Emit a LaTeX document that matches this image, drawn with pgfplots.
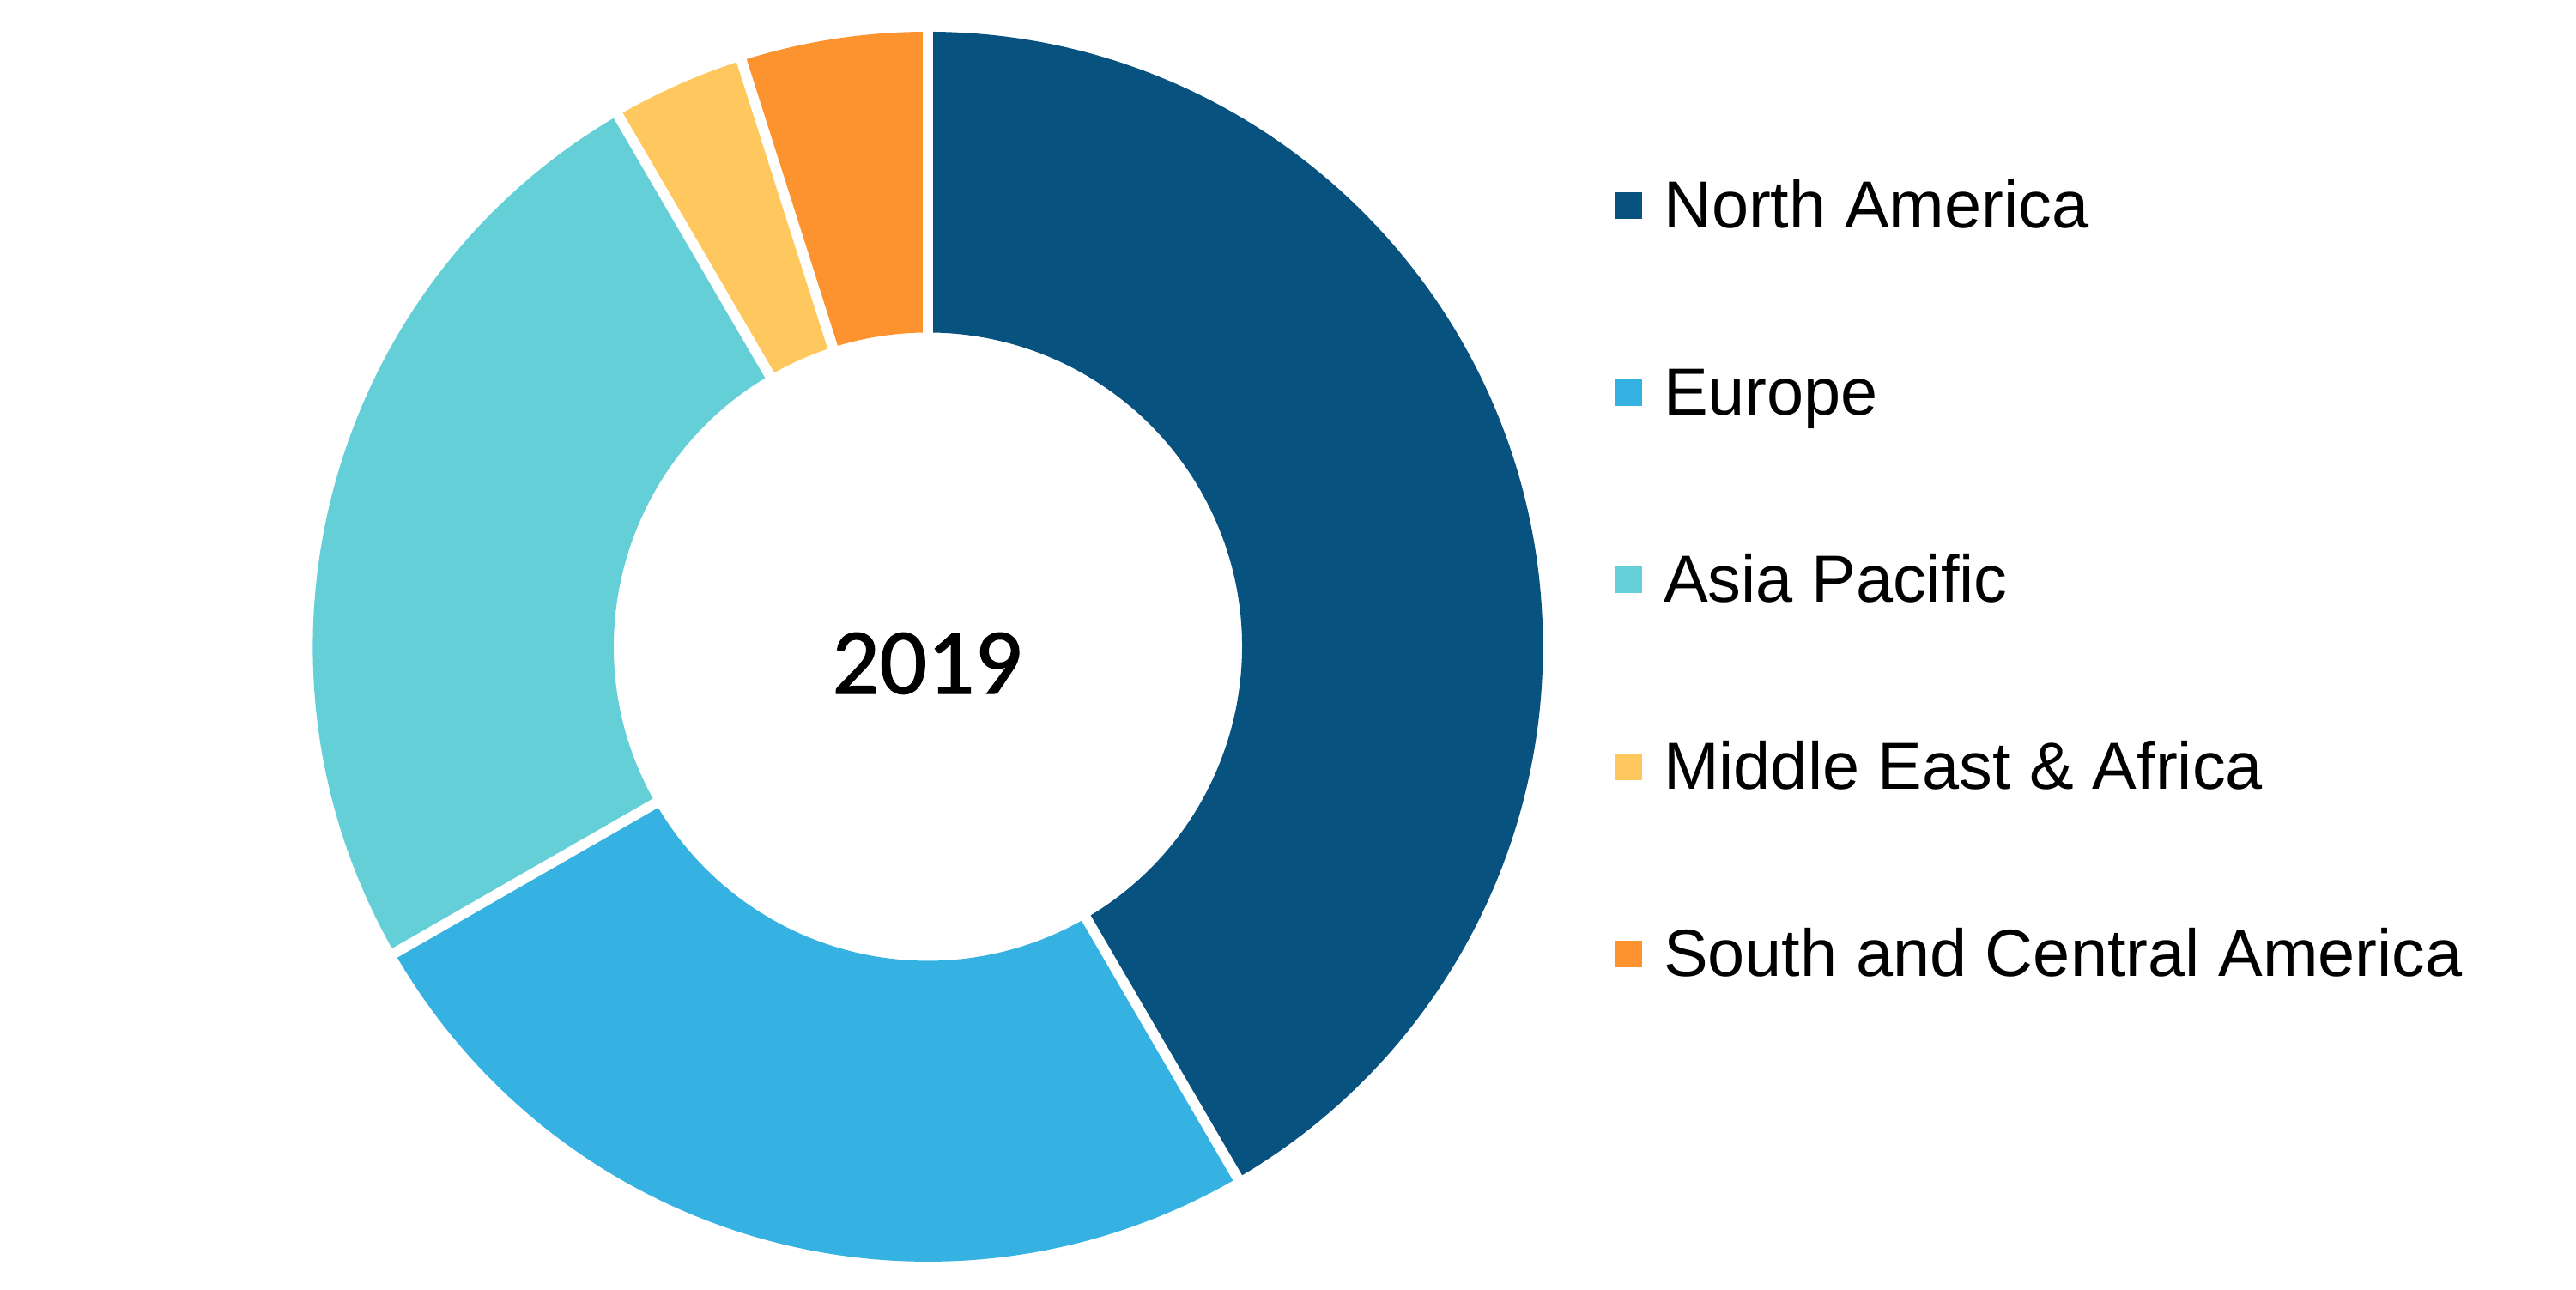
\documentclass[border=0pt]{standalone}
\usepackage{pgfplots}
\pgfplotsset{compat=1.18}
\usepackage{pgfplotstable}
\usepackage{fontspec}
\setmainfont{Liberation Sans}
\newfontfamily\yearfont[FakeBold=1.2]{Carlito}

\definecolor{cNA}{HTML}{08527F}
\definecolor{cEU}{HTML}{35B1E2}
\definecolor{cAP}{HTML}{65CFD8}
\definecolor{cME}{HTML}{FEC85E}
\definecolor{cSA}{HTML}{FD932F}

% share of each region (percent), 2019
\pgfplotstableread{
region share
NA 41.6
EU 25.1
AP 24.9
MEA 3.5
SCA 4.9
}\sharetable

\pgfplotstablegetelem{0}{share}\of\sharetable\let\sA\pgfplotsretval
\pgfplotstablegetelem{1}{share}\of\sharetable\let\sB\pgfplotsretval
\pgfplotstablegetelem{2}{share}\of\sharetable\let\sC\pgfplotsretval
\pgfplotstablegetelem{3}{share}\of\sharetable\let\sD\pgfplotsretval
\pgfplotstablegetelem{4}{share}\of\sharetable\let\sE\pgfplotsretval
\pgfmathsetmacro\aA{90}
\pgfmathsetmacro\aB{\aA-3.6*\sA}
\pgfmathsetmacro\aC{\aB-3.6*\sB}
\pgfmathsetmacro\aD{\aC-3.6*\sC}
\pgfmathsetmacro\aE{\aD-3.6*\sD}
\pgfmathsetmacro\aF{\aE-3.6*\sE}

\pgfmathsetmacro\Rout{716.5*20/3001}
\pgfmathsetmacro\Rin{366*20/3001}
\pgfmathsetmacro\RoutX{\Rout+0.1}
\pgfmathsetmacro\RinX{\Rin-0.1}

\newcommand\slice[3]{%
  \fill[#3] ([shift={(#1:\Rout cm)}]axis cs:1081,747.5)
    arc[start angle=#1,end angle=#2,radius=\Rout cm]
    -- ([shift={(#2:\Rin cm)}]axis cs:1081,747.5)
    arc[start angle=#2,end angle=#1,radius=\Rin cm] -- cycle;}
\newcommand\sep[1]{%
  \draw[white,line width=2.3pt] ([shift={(#1:\RinX cm)}]axis cs:1081,747.5)
    -- ([shift={(#1:\RoutX cm)}]axis cs:1081,747.5);}
\newcommand\legitem[4]{% center y, baseline y, color, text
  \fill[#3] (axis cs:1882,#1-15.5) rectangle (axis cs:1913,#1+15.5);
  \node[anchor=base west,inner sep=0pt,font=\fontsize{14.7}{17}\selectfont]
    at (axis cs:1937,#2) {#4};}

\begin{document}
\begin{tikzpicture}
\begin{axis}[
  width=20cm, height=10.0033cm, scale only axis,
  xmin=0, xmax=3001, ymin=0, ymax=1501,
  hide axis, clip=false]
\path (axis cs:0,0) rectangle (axis cs:3001,1501);
\slice{\aA}{\aB}{cNA}
\slice{\aB}{\aC}{cEU}
\slice{\aC}{\aD}{cAP}
\slice{\aD}{\aE}{cME}
\slice{\aE}{\aF}{cSA}
\sep{\aA}
\sep{\aB}
\sep{\aC}
\sep{\aD}
\sep{\aE}
\node[inner sep=0pt,font=\yearfont\fontsize{20.7}{24}\selectfont] at (axis cs:1080,728) {2019};
\legitem{1261.5}{1235}{cNA}{North America}
\legitem{1043.5}{1017}{cEU}{Europe}
\legitem{825.5}{799}{cAP}{Asia Pacific}
\legitem{607.5}{581}{cME}{Middle East \& Africa}
\legitem{389.5}{363}{cSA}{South and Central America}
\end{axis}
\end{tikzpicture}
\end{document}
